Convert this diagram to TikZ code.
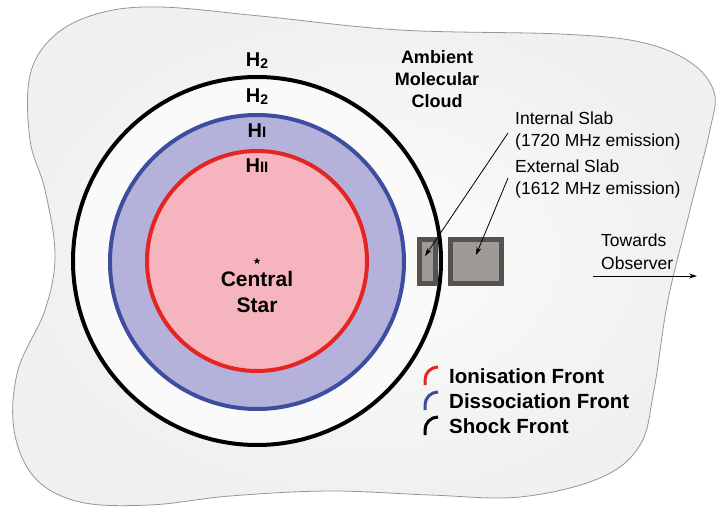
\documentclass[tikz,border=0pt]{standalone}
\usepackage{fontspec}
\setmainfont{Liberation Sans}
\usetikzlibrary{arrows.meta,shapes.geometric}

\definecolor{ionred}{RGB}{229,37,33}
\definecolor{ionpink}{RGB}{246,181,190}
\definecolor{dissblue}{RGB}{62,77,160}
\definecolor{disslav}{RGB}{180,178,219}
\definecolor{slabedge}{RGB}{85,82,80}
\definecolor{slabfill}{RGB}{158,155,151}
\definecolor{cloudedge}{RGB}{150,150,150}

% hydrogen labels
\newcommand{\molH}{H\raisebox{-0.15ex}{\fontsize{14}{14}\selectfont 2}}
\newcommand{\atomH}{H{\fontsize{15}{15}\selectfont I}}
\newcommand{\ionH}{H{\fontsize{15}{15}\selectfont II}}

\begin{document}
\begin{tikzpicture}[x=1pt,y=-1pt,
  front/.style={line width=4pt},
  key/.style={line width=3pt},
  slab/.style={draw=slabedge, fill=slabfill, line width=5pt, inner sep=0pt, minimum height=44pt},
  lbl/.style={font=\fontsize{20}{20}\selectfont\bfseries, inner sep=0pt, anchor=base},
  note/.style={font=\fontsize{17.5}{22}\selectfont, inner sep=0pt, align=left, anchor=base west},
  keytext/.style={font=\fontsize{20.5}{20.5}\selectfont\bfseries, inner sep=0pt, anchor=base west},
  pointer/.style={-{Stealth[length=8pt,width=5pt]}, line width=0.8pt}]
\useasboundingbox (0,0) rectangle (718,508);

% ambient molecular cloud
\shadedraw[draw=cloudedge, line width=0.8pt, inner color=white!99!black, outer color=white!94!black]
  plot[smooth cycle, tension=0.6] coordinates {
    (30,75) (55,35) (100,13) (160,7) (260,16) (400,30) (560,34) (640,42)
    (690,62) (714,92) (710,130) (690,210) (668,300) (654,390) (640,445)
    (600,478) (520,497) (430,495) (330,491) (230,496) (150,505) (80,502)
    (35,478) (14,430) (18,370) (45,310) (55,255) (45,190) (30,140)};

% shock, dissociation and ionisation fronts
\filldraw[front, draw=black, fill=white!98!black] (257,261) circle[radius=184];
\filldraw[front, draw=dissblue, fill=disslav] (257,262) circle[radius=147];
\filldraw[front, draw=ionred, fill=ionpink] (257,261) circle[radius=110];

% layer labels
\node[lbl] (hmolout) at (257,67) {\molH};
\node[lbl] (hmolin) at (257,103) {\molH};
\node[lbl] (hatom) at (257,138) {\atomH};
\node[lbl] (hion) at (257,173) {\ionH};

% central star
\node[star, star points=5, star point ratio=2.4, fill=black, minimum size=7pt, inner sep=0pt] (star) at (257,261) {};
\node[lbl, font=\fontsize{21}{26}\selectfont\bfseries, align=center] (cstar) at (257,312) {Central\\Star};

\node[lbl, font=\fontsize{18}{22}\selectfont\bfseries, align=center] (cloud) at (437,108) {Ambient\\Molecular\\Cloud};

% maser slabs
\node[slab, minimum width=16pt] (islab) at (427.5,261.5) {};
\node[slab, minimum width=51pt] (eslab) at (476,261.5) {};

\node[note] (inote) at (515,147) {Internal Slab\\(1720 MHz emission)};
\node[note] (enote) at (515,195) {External Slab\\(1612 MHz emission)};

\coordinate (ifrom) at (508,133);
\coordinate (ito) at (425,256);
\coordinate (efrom) at (508,178);
\coordinate (eto) at (476,255);
\draw[pointer] (ifrom) -- (ito);
\draw[pointer] (efrom) -- (eto);

% line of sight
\node[note] (obs) at (601,269) {Towards\\Observer};
\coordinate (obsfrom) at (593,276);
\coordinate (obsto) at (697,276);
\draw[pointer] (obsfrom) -- (obsto);

% legend
\draw[key, ionred] (425,385) -- (425,380) arc[start angle=180, end angle=90, radius=13pt];
\draw[key, dissblue] (425,410) -- (425,405) arc[start angle=180, end angle=90, radius=13pt];
\draw[key, black] (425,435) -- (425,430) arc[start angle=180, end angle=90, radius=13pt];
\node[keytext] (ionkey) at (449,383) {Ionisation Front};
\node[keytext] (disskey) at (449,408) {Dissociation Front};
\node[keytext] (shockkey) at (449,433) {Shock Front};

\end{tikzpicture}
\end{document}
